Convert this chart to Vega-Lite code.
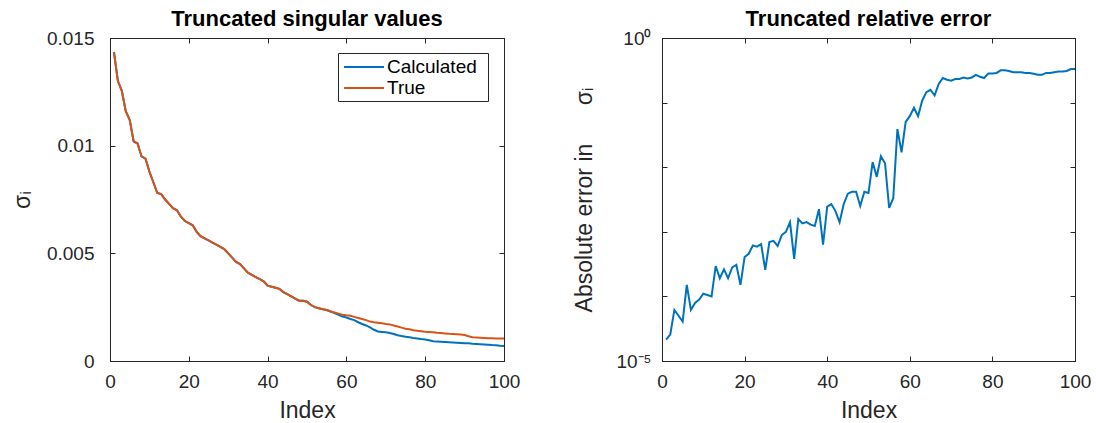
{
  "$schema": "https://vega.github.io/schema/vega-lite/v6.json",
  "background": "white",
  "padding": {"left": 10, "top": 7, "right": 10, "bottom": 4},
  "config": {
    "font": "Liberation Sans",
    "view": {"stroke": "#262626", "strokeWidth": 1},
    "axis": {
      "grid": false,
      "domainColor": "#262626",
      "tickColor": "#262626",
      "labelColor": "#262626",
      "titleColor": "#262626",
      "labelFont": "Liberation Sans",
      "titleFont": "Liberation Sans",
      "labelFontSize": 19,
      "titleFontSize": 23,
      "titleFontWeight": "normal",
      "tickSize": -5,
      "labelFlush": false
    },
    "axisX": {"labelPadding": 16, "titlePadding": 8},
    "axisY": {"labelPadding": 21},
    "title": {"font": "Liberation Sans", "fontSize": 22, "fontWeight": "bold", "color": "black"}
  },
  "datasets": {
    "sv": [
      {"i":1,"Calculated":0.01435,"True":0.01435},{"i":2,"Calculated":0.0130,"True":0.0130},{"i":3,"Calculated":0.01255,"True":0.01255},{"i":4,"Calculated":0.0116,"True":0.0116},{"i":5,"Calculated":0.0112,"True":0.0112},
      {"i":6,"Calculated":0.0102,"True":0.0102},{"i":7,"Calculated":0.0101,"True":0.0101},{"i":8,"Calculated":0.0095,"True":0.0095},{"i":9,"Calculated":0.0094,"True":0.0094},{"i":10,"Calculated":0.0088,"True":0.0088},
      {"i":11,"Calculated":0.0083,"True":0.0083},{"i":12,"Calculated":0.0078,"True":0.0078},{"i":13,"Calculated":0.00775,"True":0.00775},{"i":14,"Calculated":0.0075,"True":0.0075},{"i":15,"Calculated":0.0073,"True":0.0073},
      {"i":16,"Calculated":0.0071,"True":0.0071},{"i":17,"Calculated":0.0070,"True":0.0070},{"i":18,"Calculated":0.0067,"True":0.0067},{"i":19,"Calculated":0.0065,"True":0.0065},{"i":20,"Calculated":0.0064,"True":0.0064},
      {"i":21,"Calculated":0.0063,"True":0.0063},{"i":22,"Calculated":0.0060,"True":0.0060},{"i":23,"Calculated":0.0058,"True":0.0058},{"i":24,"Calculated":0.0057,"True":0.0057},{"i":25,"Calculated":0.0056,"True":0.0056},
      {"i":26,"Calculated":0.0055,"True":0.0055},{"i":27,"Calculated":0.0054,"True":0.0054},{"i":28,"Calculated":0.0053,"True":0.0053},{"i":29,"Calculated":0.0052,"True":0.0052},{"i":30,"Calculated":0.0050,"True":0.0050},
      {"i":31,"Calculated":0.0048,"True":0.0048},{"i":32,"Calculated":0.0046,"True":0.0046},{"i":33,"Calculated":0.0045,"True":0.0045},{"i":34,"Calculated":0.0043,"True":0.0043},{"i":35,"Calculated":0.0041,"True":0.0041},
      {"i":36,"Calculated":0.0040,"True":0.0040},{"i":37,"Calculated":0.0039,"True":0.0039},{"i":38,"Calculated":0.0038,"True":0.0038},{"i":39,"Calculated":0.0037,"True":0.0037},{"i":40,"Calculated":0.0035,"True":0.0035},
      {"i":41,"Calculated":0.00345,"True":0.00345},{"i":42,"Calculated":0.0034,"True":0.0034},{"i":43,"Calculated":0.00335,"True":0.00335},{"i":44,"Calculated":0.0032,"True":0.0032},{"i":45,"Calculated":0.0031,"True":0.0031},
      {"i":46,"Calculated":0.0030,"True":0.0030},{"i":47,"Calculated":0.0029,"True":0.0029},{"i":48,"Calculated":0.0028,"True":0.0028},{"i":49,"Calculated":0.0028,"True":0.0028},{"i":50,"Calculated":0.00275,"True":0.00275},
      {"i":51,"Calculated":0.0026,"True":0.0026},{"i":52,"Calculated":0.0025,"True":0.0025},{"i":53,"Calculated":0.00245,"True":0.00245},{"i":54,"Calculated":0.0024,"True":0.0024},{"i":55,"Calculated":0.00237,"True":0.00237},
      {"i":56,"Calculated":0.0023,"True":0.0023},{"i":57,"Calculated":0.00222,"True":0.00225},{"i":58,"Calculated":0.00214,"True":0.0022},{"i":59,"Calculated":0.00207,"True":0.00215},{"i":60,"Calculated":0.00202,"True":0.00212},
      {"i":61,"Calculated":0.00195,"True":0.0021},{"i":62,"Calculated":0.0019,"True":0.00205},{"i":63,"Calculated":0.0018,"True":0.0020},{"i":64,"Calculated":0.00172,"True":0.00195},{"i":65,"Calculated":0.00165,"True":0.0019},
      {"i":66,"Calculated":0.00156,"True":0.00183},{"i":67,"Calculated":0.00145,"True":0.0018},{"i":68,"Calculated":0.00137,"True":0.00178},{"i":69,"Calculated":0.00135,"True":0.00175},{"i":70,"Calculated":0.00133,"True":0.00172},
      {"i":71,"Calculated":0.0013,"True":0.0017},{"i":72,"Calculated":0.00125,"True":0.00165},{"i":73,"Calculated":0.0012,"True":0.0016},{"i":74,"Calculated":0.00116,"True":0.00155},{"i":75,"Calculated":0.00113,"True":0.0015},
      {"i":76,"Calculated":0.0011,"True":0.00147},{"i":77,"Calculated":0.00107,"True":0.00143},{"i":78,"Calculated":0.00105,"True":0.0014},{"i":79,"Calculated":0.00102,"True":0.00138},{"i":80,"Calculated":0.0010,"True":0.00136},
      {"i":81,"Calculated":0.00096,"True":0.00135},{"i":82,"Calculated":0.00092,"True":0.00133},{"i":83,"Calculated":0.0009,"True":0.00131},{"i":84,"Calculated":0.00089,"True":0.0013},{"i":85,"Calculated":0.00088,"True":0.00128},
      {"i":86,"Calculated":0.00087,"True":0.00126},{"i":87,"Calculated":0.00086,"True":0.00125},{"i":88,"Calculated":0.00085,"True":0.00124},{"i":89,"Calculated":0.00084,"True":0.00123},{"i":90,"Calculated":0.00083,"True":0.00121},
      {"i":91,"Calculated":0.00082,"True":0.00115},{"i":92,"Calculated":0.0008,"True":0.0011},{"i":93,"Calculated":0.00079,"True":0.00109},{"i":94,"Calculated":0.00078,"True":0.00108},{"i":95,"Calculated":0.00077,"True":0.00107},
      {"i":96,"Calculated":0.00076,"True":0.00106},{"i":97,"Calculated":0.00074,"True":0.00106},{"i":98,"Calculated":0.00073,"True":0.00105},{"i":99,"Calculated":0.00071,"True":0.00104},{"i":100,"Calculated":0.0007,"True":0.00104}
    ],
    "err": [
      {"i":1,"e":2.14e-5},{"i":2,"e":2.57e-5},{"i":3,"e":6.17e-5},{"i":4,"e":5.01e-5},{"i":5,"e":4.07e-5},
      {"i":6,"e":1.51e-4},{"i":7,"e":6.17e-5},{"i":8,"e":7.94e-5},{"i":9,"e":8.91e-5},{"i":10,"e":1.10e-4},
      {"i":11,"e":1.05e-4},{"i":12,"e":1.00e-4},{"i":13,"e":2.95e-4},{"i":14,"e":1.91e-4},{"i":15,"e":2.63e-4},
      {"i":16,"e":1.91e-4},{"i":17,"e":2.82e-4},{"i":18,"e":3.09e-4},{"i":19,"e":1.51e-4},{"i":20,"e":4.07e-4},
      {"i":21,"e":4.57e-4},{"i":22,"e":6.17e-4},{"i":23,"e":5.89e-4},{"i":24,"e":6.46e-4},{"i":25,"e":2.57e-4},
      {"i":26,"e":6.92e-4},{"i":27,"e":7.24e-4},{"i":28,"e":6.03e-4},{"i":29,"e":8.91e-4},{"i":30,"e":1.00e-3},
      {"i":31,"e":1.41e-3},{"i":32,"e":3.80e-4},{"i":33,"e":1.58e-3},{"i":34,"e":1.35e-3},{"i":35,"e":1.41e-3},
      {"i":36,"e":1.29e-3},{"i":37,"e":1.23e-3},{"i":38,"e":2.24e-3},{"i":39,"e":6.31e-4},{"i":40,"e":2.45e-3},
      {"i":41,"e":2.69e-3},{"i":42,"e":2.09e-3},{"i":43,"e":1.41e-3},{"i":44,"e":2.69e-3},{"i":45,"e":3.89e-3},
      {"i":46,"e":4.17e-3},{"i":47,"e":4.17e-3},{"i":48,"e":2.51e-3},{"i":49,"e":4.17e-3},{"i":50,"e":3.98e-3},
      {"i":51,"e":1.20e-2},{"i":52,"e":7.08e-3},{"i":53,"e":1.48e-2},{"i":54,"e":1.15e-2},{"i":55,"e":2.34e-3},
      {"i":56,"e":3.31e-3},{"i":57,"e":3.89e-2},{"i":58,"e":1.70e-2},{"i":59,"e":5.01e-2},{"i":60,"e":6.17e-2},
      {"i":61,"e":8.32e-2},{"i":62,"e":6.17e-2},{"i":63,"e":0.107},{"i":64,"e":0.145},{"i":65,"e":0.158},
      {"i":66,"e":0.129},{"i":67,"e":0.195},{"i":68,"e":0.240},{"i":69,"e":0.226},{"i":70,"e":0.219},
      {"i":71,"e":0.232},{"i":72,"e":0.232},{"i":73,"e":0.245},{"i":74,"e":0.237},{"i":75,"e":0.245},
      {"i":76,"e":0.269},{"i":77,"e":0.251},{"i":78,"e":0.240},{"i":79,"e":0.282},{"i":80,"e":0.282},
      {"i":81,"e":0.288},{"i":82,"e":0.316},{"i":83,"e":0.316},{"i":84,"e":0.309},{"i":85,"e":0.295},
      {"i":86,"e":0.295},{"i":87,"e":0.295},{"i":88,"e":0.288},{"i":89,"e":0.288},{"i":90,"e":0.279},
      {"i":91,"e":0.269},{"i":92,"e":0.269},{"i":93,"e":0.288},{"i":94,"e":0.288},{"i":95,"e":0.295},
      {"i":96,"e":0.302},{"i":97,"e":0.302},{"i":98,"e":0.309},{"i":99,"e":0.331},{"i":100,"e":0.331}
    ]
  },
  "spacing": 52,
  "hconcat": [
    {
      "width": 394,
      "height": 323,
      "title": {"text": "Truncated singular values", "offset": -2},
      "data": {"name": "sv"},
      "transform": [{"fold": ["Calculated", "True"], "as": ["series", "v"]}],
      "layer": [
        {
          "mark": {"type": "line", "strokeWidth": 2},
          "encoding": {
            "x": {"field": "i", "type": "quantitative", "scale": {"domain": [0, 100], "nice": false},
                  "axis": {"values": [0, 20, 40, 60, 80, 100], "title": "Index"}},
            "y": {"field": "v", "type": "quantitative", "scale": {"domain": [0, 0.015], "nice": false},
                  "axis": {"values": [0, 0.005, 0.01, 0.015], "format": ".3~f", "title": "σᵢ", "titlePadding": 12}},
            "color": {"field": "series", "type": "nominal",
                      "scale": {"domain": ["Calculated", "True"], "range": ["#0072BD", "#D95319"]},
                      "legend": {"title": ".", "titleOrient": "right", "titleColor": "white", "titleFontSize": 8, "titlePadding": 5,
                                 "orient": "none", "legendX": 228, "legendY": 15,
                                 "fillColor": "white", "strokeColor": "#262626", "padding": 3,
                                 "symbolType": "M-2,0H2", "symbolSize": 400, "symbolStrokeWidth": 2,
                                 "symbolOffset": 12,
                                 "labelFontSize": 19, "labelColor": "black", "labelOffset": 12, "rowPadding": 0}}
          }
        },
        {
          "mark": {"type": "line", "opacity": 0},
          "encoding": {
            "x": {"field": "i", "type": "quantitative", "scale": {"domain": [0, 100], "nice": false}, "axis": {"orient": "top", "values": [0, 20, 40, 60, 80, 100], "labels": false, "title": null, "domain": false}},
            "y": {"field": "v", "type": "quantitative", "scale": {"domain": [0, 0.015], "nice": false}, "axis": {"orient": "right", "values": [0, 0.005, 0.01, 0.015], "labels": false, "title": null, "domain": false}}
          }
        }
      ],
      "resolve": {"axis": {"x": "independent", "y": "independent"}}
    },
    {
      "width": 413,
      "height": 323,
      "title": {"text": "Truncated relative error", "offset": -2},
      "data": {"name": "err"},
      "layer": [
        {
          "mark": {"type": "line", "strokeWidth": 2, "color": "#0072BD"},
          "encoding": {
            "x": {"field": "i", "type": "quantitative", "scale": {"domain": [0, 100], "nice": false},
                  "axis": {"values": [0, 20, 40, 60, 80, 100], "title": "Index"}},
            "y": {"field": "e", "type": "quantitative", "scale": {"type": "log", "domain": [0.00001, 1], "nice": false},
                  "axis": {"values": [0.00001, 0.0001, 0.001, 0.01, 0.1, 1], "labelPadding": 16,
                           "labelExpr": "datum.value >= 0.9 ? '10⁰' : (datum.value < 0.00002 ? '10⁻⁵' : '')",
                           "title": "Absolute error in\u00a0\u00a0\u00a0\u00a0\u00a0\u00a0σᵢ", "titlePadding": 19}}
          }
        },
        {
          "mark": {"type": "line", "opacity": 0},
          "encoding": {
            "x": {"field": "i", "type": "quantitative", "scale": {"domain": [0, 100], "nice": false}, "axis": {"orient": "top", "values": [0, 20, 40, 60, 80, 100], "labels": false, "title": null, "domain": false}},
            "y": {"field": "e", "type": "quantitative", "scale": {"type": "log", "domain": [0.00001, 1], "nice": false}, "axis": {"orient": "right", "values": [0.00001, 0.0001, 0.001, 0.01, 0.1, 1], "labels": false, "title": null, "domain": false}}
          }
        }
      ],
      "resolve": {"axis": {"x": "independent", "y": "independent"}}
    }
  ]
}
